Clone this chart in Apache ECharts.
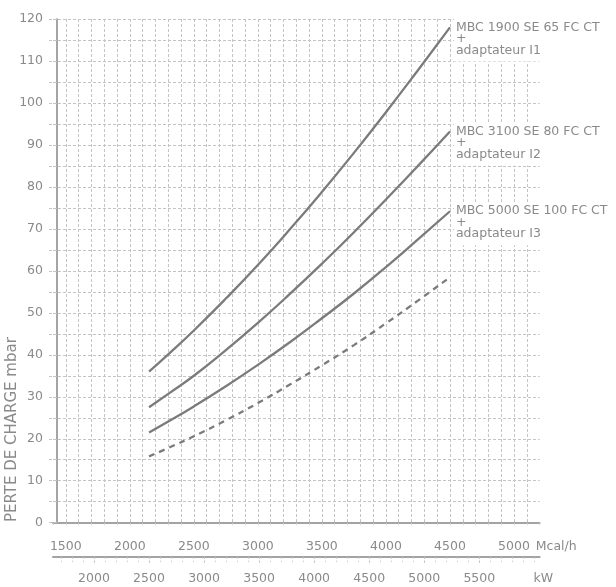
<!DOCTYPE html>
<html><head><meta charset="utf-8">
<script src="https://cdn.jsdelivr.net/npm/echarts@6/dist/echarts.min.js"></script>
<style>html,body{margin:0;padding:0;background:#fff}#c{width:616px;height:587px}</style>
</head><body><div id="c"></div>
<script>
// Data (Mcal/h -> mbar)
const flowMcal = [2150, 2300, 2500, 2750, 3000, 3250, 3500, 3750, 4000, 4250, 4500];
const mbc1900 = [36, 40.1, 45.8, 53.4, 61.4, 69.9, 78.8, 88.1, 97.8, 107.8, 118];
const mbc3100 = [27.5, 30.7, 35, 41.1, 47.6, 54.5, 61.7, 69.2, 77, 85, 93.2];
const mbc5000 = [21.5, 24.1, 27.7, 32.5, 37.6, 43, 48.7, 54.6, 60.9, 67.5, 74.2];
const dashedCurve = [15.8, 17.8, 20.6, 24.4, 28.5, 32.9, 37.5, 42.3, 47.5, 52.9, 58.5];
const seriesNames = ['MBC 1900 SE 65 FC CT', 'MBC 3100 SE 80 FC CT', 'MBC 5000 SE 100 FC CT'];
const adapterNames = ['adaptateur I1', 'adaptateur I2', 'adaptateur I3'];
const mcalLabels = [1500, 2000, 2500, 3000, 3500, 4000, 4500, 5000];
const kwLabels = [2000, 2500, 3000, 3500, 4000, 4500, 5000, 5500];
const KW_PER_MCAL = 1.163;
const yTitle = 'PERTE DE CHARGE mbar';

const FONT = 'DejaVu Sans';
const TXT = '#8a8a8a';
const GRID = '#c4c4c4';
const LINE = '#7b7b7b';
const X_MIN = 1400, X_MAX = 5200;

const kwMinor = [];
for (let v = 1700; v <= 6000; v += 100) kwMinor.push(v);

function pairs(ys) { return flowMcal.map((x, i) => [x, ys[i]]); }

function curve(name, ys, idx) {
  return {
    type: 'line', name: name, data: pairs(ys), smooth: 0.5, showSymbol: false,
    lineStyle: {color: LINE, width: 2.3}, silent: true,
    endLabel: {
      show: true,
      formatter: () => '{a|' + seriesNames[idx] + '}\n{b|+}\n{a|' + adapterNames[idx] + '}',
      rich: {
        a: {fontFamily: FONT, fontSize: 12.5, color: TXT, lineHeight: 12},
        b: {fontFamily: FONT, fontSize: 12.5, color: TXT, lineHeight: 11}
      },
      backgroundColor: '#fff', padding: [3, 4, 5, 2], distance: 4,
      verticalAlign: 'top', offset: [0, -9]
    }
  };
}

const chart = echarts.init(document.getElementById('c'), null, {renderer: 'canvas'});
chart.setOption({
  animation: false,
  backgroundColor: '#fff',
  grid: {left: 53, top: 19, right: 76.4, bottom: 64.3, containLabel: false},
  xAxis: [
    {
      type: 'value', min: X_MIN, max: X_MAX, interval: 100, position: 'bottom',
      name: 'Mcal/h', nameLocation: 'end', nameGap: -4,
      nameTextStyle: {fontFamily: FONT, fontSize: 12.5, color: TXT, verticalAlign: 'top', align: 'left', padding: [18, 0, 0, 0]},
      axisLine: {show: true, onZero: false, lineStyle: {color: '#a3a3a3', width: 2}},
      axisTick: {show: true, length: 4, lineStyle: {color: GRID, type: [2, 2]}},
      axisLabel: {
        fontFamily: FONT, fontSize: 12.5, color: TXT, margin: 18,
        formatter: v => mcalLabels.indexOf(v) >= 0 ? String(v) : ''
      },
      splitLine: {show: true, showMinLine: false, showMaxLine: false, lineStyle: {color: GRID, type: [3, 2], width: 1}}
    },
    {
      type: 'value', min: X_MIN * KW_PER_MCAL, max: X_MAX * KW_PER_MCAL, position: 'bottom', offset: 34,
      name: 'kW', nameLocation: 'end', nameGap: -6,
      nameTextStyle: {fontFamily: FONT, fontSize: 12.5, color: TXT, verticalAlign: 'top', align: 'left', padding: [16, 0, 0, 0]},
      axisLine: {show: true, onZero: false, lineStyle: {color: '#a3a3a3', width: 2}},
      axisTick: {show: true, customValues: kwMinor, length: 5, lineStyle: {color: '#bdbdbd', type: [2, 2]}},
      axisLabel: {show: true, customValues: kwLabels, fontFamily: FONT, fontSize: 12.5, color: TXT, margin: 16,
        formatter: v => String(Math.round(v))},
      splitLine: {show: false}
    },
    {
      type: 'value', min: X_MIN * KW_PER_MCAL, max: X_MAX * KW_PER_MCAL, position: 'bottom', offset: 34,
      axisLine: {show: false, onZero: false},
      axisTick: {show: true, customValues: kwLabels, length: 8, lineStyle: {color: '#bdbdbd', type: [2, 2]}},
      axisLabel: {show: false},
      splitLine: {show: false}
    }
  ],
  yAxis: {
    type: 'value', min: 0, max: 120, interval: 5, offset: -4,
    axisLine: {show: true, lineStyle: {color: '#8e8e8e', width: 1.6}},
    axisTick: {show: true, length: 10, lineStyle: {color: GRID, type: [3, 2]}},
    axisLabel: {
      fontFamily: FONT, fontSize: 12.5, color: TXT, margin: 14,
      formatter: v => (v % 10 === 0 ? String(v) : '')
    },
    splitLine: {show: true, lineStyle: {color: GRID, type: [3, 2], width: 1}}
  },
  graphic: [{
    type: 'text', x: 5, y: 522, rotation: Math.PI / 2,
    style: {text: yTitle, x: 0, y: 0, align: 'left', verticalAlign: 'top', fontFamily: FONT, fontSize: 15, fill: TXT}
  }],
  series: [
    curve(seriesNames[0], mbc1900, 0),
    curve(seriesNames[1], mbc3100, 1),
    curve(seriesNames[2], mbc5000, 2),
    {
      type: 'line', name: 'dashed', data: pairs(dashedCurve), smooth: 0.5, showSymbol: false, silent: true,
      lineStyle: {color: LINE, width: 2.3, type: [6, 5]}
    }
  ]
});
</script>
</body></html>
